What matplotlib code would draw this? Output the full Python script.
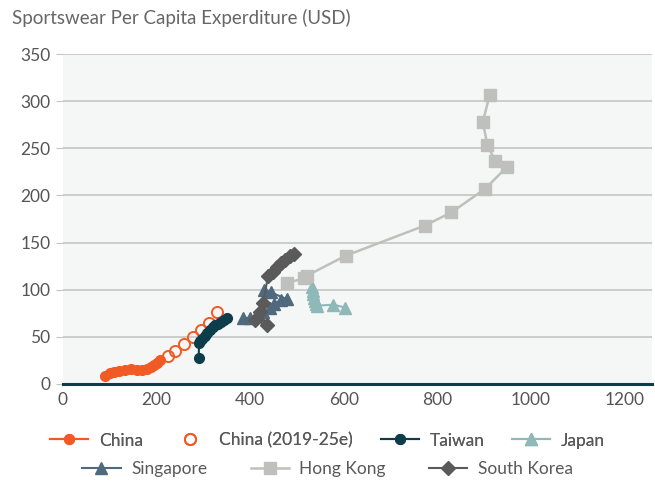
import matplotlib.pyplot as plt

plt.rcParams['font.family'] = ['Lato', 'DejaVu Sans']

# data (x = GDP-ish axis, y = sportswear spend per capita, USD)
china_x = [90, 100, 110, 120, 132, 145, 158, 170, 180, 188, 195, 201, 207]
china_y = [8, 11, 13, 14, 15, 15.5, 15, 15, 16, 18, 20, 22, 25]

china_e_x = [225, 240, 258, 277, 295, 312, 330]
china_e_y = [30, 35, 42, 50, 57, 65, 76]

taiwan_x = [290, 291, 294, 298, 303, 308, 314, 320, 326, 332, 338, 344, 350]
taiwan_y = [27, 43, 45, 48, 51, 54, 57, 60, 62, 64, 66, 68, 70]

japan_x = [533, 535, 534, 536, 538, 540, 543, 578, 603]
japan_y = [103, 99, 95, 91, 88, 85, 83, 84, 81]

singapore_x = [385, 400, 415, 428, 442, 452, 465, 478, 445, 430]
singapore_y = [70, 70, 73, 76, 80, 85, 89, 90, 97, 100]

hongkong_x = [478, 515, 522, 604, 773, 830, 902, 948, 923, 907, 897, 912]
hongkong_y = [107, 112, 115, 136, 168, 182, 207, 230, 237, 254, 278, 307]

korea_x = [410, 436, 421, 428, 438, 449, 458, 466, 475, 485, 494]
korea_y = [68, 62, 76, 86, 114, 119, 124, 128, 132, 136, 138]

fig = plt.figure(figsize=(6.55, 4.84), dpi=100)
ax = fig.add_axes([0.096, 0.207, 0.899, 0.681])
ax.set_facecolor('#f5f7f6')

l1, = ax.plot(china_x, china_y, color='#f15a24', lw=1.5, marker='o', ms=7, label='China')
l2, = ax.plot(china_e_x, china_e_y, ls='none', marker='o', ms=8, mfc='none', mec='#f15a24',
              mew=1.4, label='China (2019-25e)')
l3, = ax.plot(taiwan_x, taiwan_y, color='#0d3d4a', lw=1.5, marker='o', ms=7, label='Taiwan')
l4, = ax.plot(japan_x, japan_y, color='#8fb8b8', lw=1.5, marker='^', ms=9, label='Japan')
l5, = ax.plot(singapore_x, singapore_y, color='#4f6a7e', lw=1.5, marker='^', ms=9, label='Singapore')
l6, = ax.plot(hongkong_x, hongkong_y, color='#bfc0bd', lw=1.8, marker='s', ms=9, label='Hong Kong')
l7, = ax.plot(korea_x, korea_y, color='#5a5a5a', lw=1.5, marker='D', ms=7.5, label='South Korea')

ax.set_xlim(0, 1258)
ax.set_ylim(0, 350)
ax.set_xticks(range(0, 1201, 200))
ax.set_yticks(range(0, 351, 50))
ax.yaxis.grid(True, color='#c4c6c5', lw=1.2)
ax.set_axisbelow(True)

for s in ['top', 'right', 'left']:
    ax.spines[s].set_visible(False)
ax.spines['bottom'].set_color('#0d3d4a')
ax.spines['bottom'].set_linewidth(2.2)
ax.spines['bottom'].set_zorder(5)

ax.tick_params(axis='y', length=5, color='#c4c6c5', labelsize=12.5, labelcolor='#555555', pad=4)
ax.tick_params(axis='x', length=0, labelsize=12.5, labelcolor='#555555', pad=6)

fig.text(0.018, 0.962, 'Sportswear Per Capita Experditure (USD)', fontsize=13.5,
         color='#666666', va='center')

leg1 = fig.legend(handles=[l1, l2, l3, l4], loc='center', bbox_to_anchor=(0.5, 0.09),
                  ncol=4, frameon=False, fontsize=12.5, handlelength=2.2,
                  columnspacing=1.6, handletextpad=0.6, labelcolor='#595959')
leg2 = fig.legend(handles=[l5, l6, l7], loc='center', bbox_to_anchor=(0.5, 0.03),
                  ncol=3, frameon=False, fontsize=12.5, handlelength=2.2,
                  columnspacing=2.5, handletextpad=0.6, labelcolor='#595959')
fig.add_artist(leg1)

fig.savefig('out.png', dpi=100)
